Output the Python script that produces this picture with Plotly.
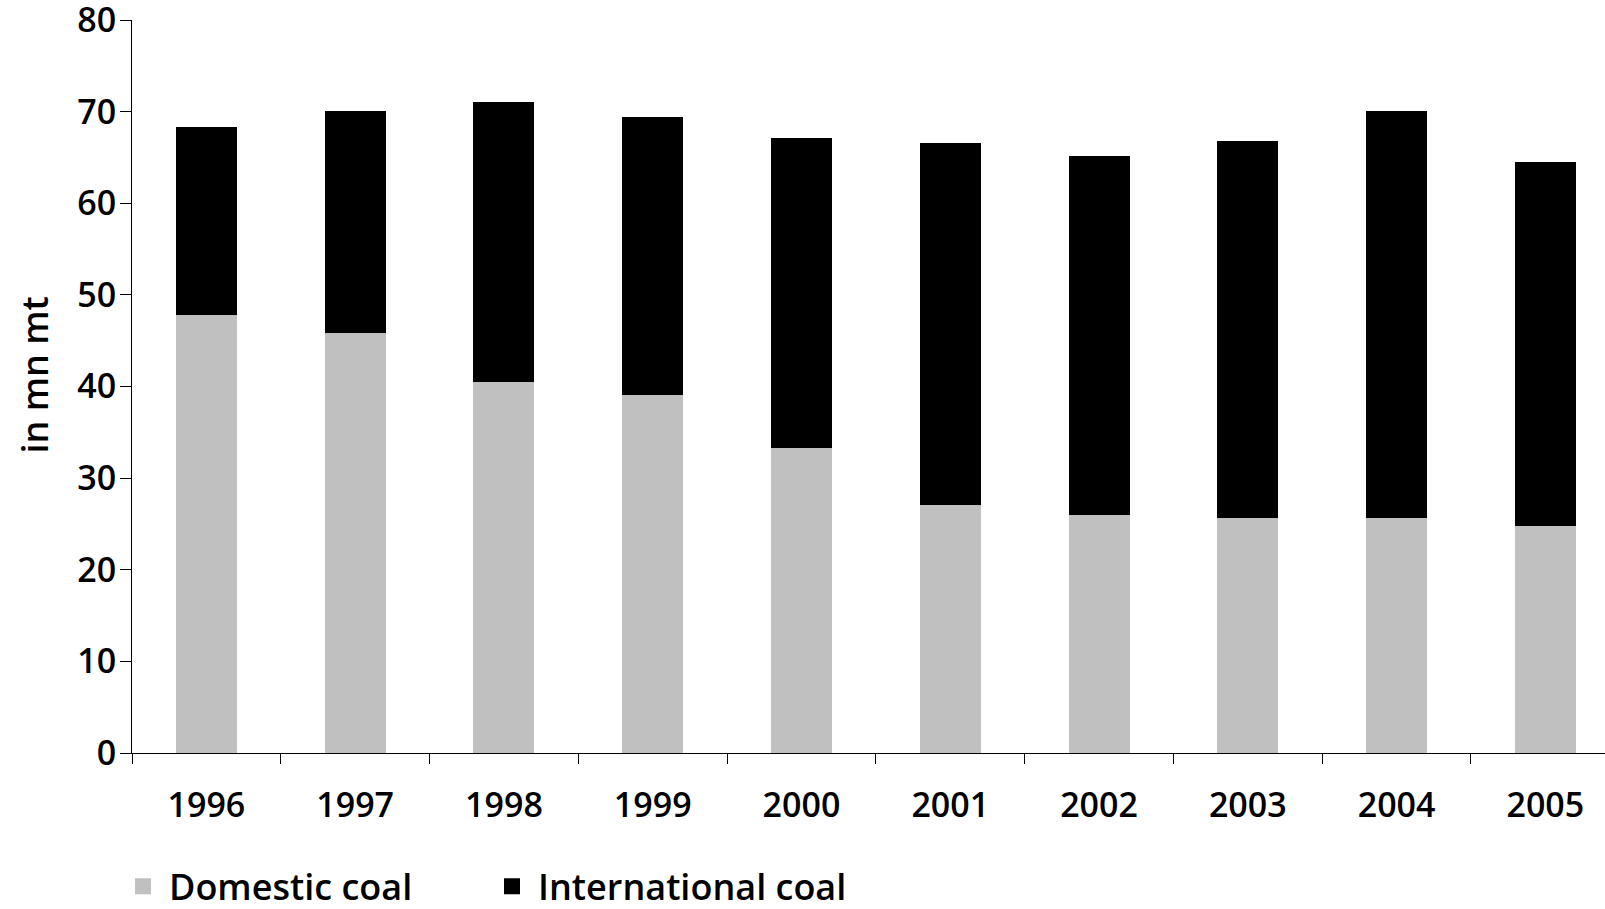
import plotly.graph_objects as go

# Coal supply by origin (mn mt)
years = ["1996", "1997", "1998", "1999", "2000", "2001", "2002", "2003", "2004", "2005"]
domestic = [47.8, 45.8, 40.5, 39.1, 33.3, 27.1, 26.0, 25.7, 25.7, 24.8]
international = [20.5, 24.3, 30.5, 30.3, 33.8, 39.5, 39.2, 41.1, 44.4, 39.7]
y_ticks = [0, 10, 20, 30, 40, 50, 60, 70, 80]

FONT = "Open Sans"
GREY = "#c0c0c0"

fig = go.Figure()

fig.add_trace(go.Bar(x=years, y=domestic, name="Domestic coal",
                     marker=dict(color=GREY, line=dict(width=0)), showlegend=False))
fig.add_trace(go.Bar(x=years, y=international, name="International coal",
                     marker=dict(color="black", line=dict(width=0)), showlegend=False))

# legend entries with bigger square swatches than the bar default
for name, col in [("Domestic coal", GREY), ("International coal", "black")]:
    fig.add_trace(go.Scatter(x=[None], y=[None], mode="markers", name=name,
                             marker=dict(symbol="square", size=19, color=col)))

fig.update_layout(
    width=1605, height=909,
    barmode="stack", bargap=0.59,
    paper_bgcolor="white", plot_bgcolor="white",
    margin=dict(l=132, r=0, t=20, b=156, autoexpand=False),
    font=dict(family=FONT, color="black", size=34, weight=600),
    legend=dict(orientation="h", xref="container", yref="container",
                x=0.0729, y=0.025, xanchor="left", yanchor="middle",
                traceorder="normal", itemwidth=42,
                font=dict(size=36, weight=600), entrywidth=312, itemsizing="trace",
                bgcolor="rgba(0,0,0,0)"),
    annotations=[dict(text="in mn mt", xref="paper", yref="paper",
                      x=-0.066, y=0.516, xanchor="center", yanchor="middle",
                      textangle=-90, showarrow=False,
                      font=dict(size=36, family=FONT, color="black", weight=600))],
)

fig.update_xaxes(range=[-0.5, 9.401], showline=True, linecolor="black", linewidth=1,
                 ticks="outside", tickson="boundaries", ticklen=10, tickcolor="black",
                 tickwidth=1, showgrid=False, zeroline=False, automargin=False,
                 tickfont=dict(size=34), ticklabelstandoff=22)
fig.update_yaxes(range=[0, 80], tickvals=y_ticks, showline=True, linecolor="black",
                 linewidth=1, ticks="outside", ticklen=11, tickcolor="black",
                 tickwidth=1, showgrid=False, zeroline=False, automargin=False,
                 ticklabeloverflow="allow", tickfont=dict(size=34),
                 ticklabelstandoff=-3)

# drop the browser's default body margin so the figure sits at the page corner
fig.write_html("out.html", config={"displayModeBar": False},
               post_script="document.body.style.margin='0';")
